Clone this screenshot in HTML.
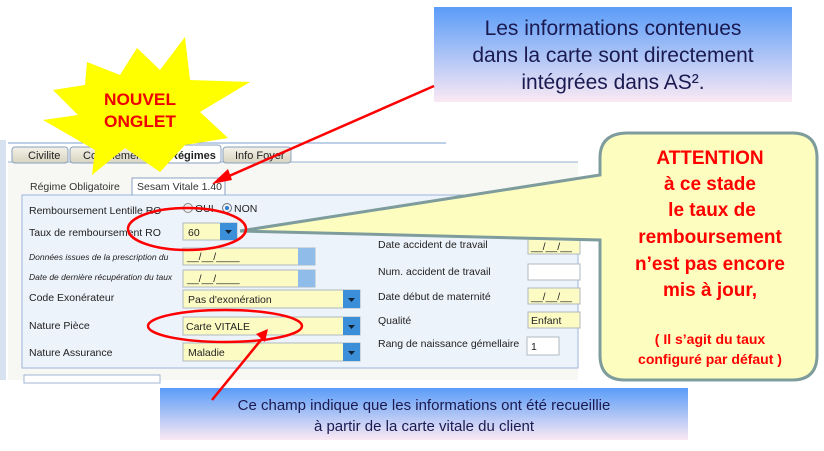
<!DOCTYPE html>
<html><head><meta charset="utf-8"><style>
body{margin:0;width:824px;height:446px;overflow:hidden;background:#fff;font-family:"Liberation Sans",sans-serif}
</style></head><body>
<svg width="824" height="446" viewBox="0 0 824 446" xmlns="http://www.w3.org/2000/svg" font-family="Liberation Sans, sans-serif">
<defs>
<linearGradient id="bg" x1="0" y1="0" x2="0" y2="1"><stop offset="0" stop-color="#5a9cf8"/><stop offset="1" stop-color="#fbe9f4"/></linearGradient>
<linearGradient id="tab" x1="0" y1="0" x2="0" y2="1"><stop offset="0" stop-color="#f4f2e8"/><stop offset="1" stop-color="#d8d4c0"/></linearGradient>
</defs>
<rect x="0" y="140" width="578" height="240" fill="#fff"/>
<rect x="0" y="140" width="6" height="240" fill="#d6e2f0"/>
<line x1="8" y1="143" x2="446" y2="143" stroke="#7d9fd0"/>
<rect x="8" y="162" width="570" height="218" fill="#f7f7f4"/>
<line x1="8" y1="162" x2="578" y2="162" stroke="#9ab0d0"/>
<rect x="12" y="147" width="56" height="16" rx="3" fill="url(#tab)" stroke="#8aa0c0"/>
<rect x="70" y="147" width="90" height="16" rx="3" fill="url(#tab)" stroke="#8aa0c0"/>
<rect x="163" y="145" width="58" height="18" rx="3" fill="#fff" stroke="#8aa0c0"/>
<rect x="223" y="147" width="68" height="16" rx="3" fill="url(#tab)" stroke="#8aa0c0"/>
<g font-size="11" fill="#222">
<text x="28" y="159">Civilite</text>
<text x="83" y="159">Complémentaires</text>
<text x="170" y="159" font-weight="bold">Régimes</text>
<text x="235" y="159">Info Foyer</text>
</g>
<rect x="132" y="178" width="93" height="17" fill="#fff" stroke="#8aa0c0"/>
<text x="30" y="190" font-size="10.5" fill="#333">Régime Obligatoire</text>
<text x="137" y="190" font-size="10.5" fill="#333">Sesam Vitale 1.40</text>
<rect x="22" y="195" width="556" height="173" fill="#edf3fb" stroke="#9ab4d8"/>
<rect x="24" y="375" width="136" height="8" fill="#fff" stroke="#a0b4d0"/>
<g font-size="10.5" fill="#222">
<text x="29" y="214">Remboursement Lentille RO</text>
<text x="29" y="236">Taux de remboursement RO</text>
<text x="29" y="260" font-size="8.5" font-style="italic">Données issues de la prescription du</text>
<text x="29" y="280" font-size="8.5" font-style="italic">Date de dernière récupération du taux</text>
<text x="29" y="301">Code Exonérateur</text>
<text x="29" y="329">Nature Pièce</text>
<text x="29" y="356">Nature Assurance</text>
<text x="378" y="248">Date accident de travail</text>
<text x="378" y="275">Num. accident de travail</text>
<text x="378" y="300">Date début de maternité</text>
<text x="378" y="324">Qualité</text>
<text x="378" y="347">Rang de naissance gémellaire</text>
</g>
<circle cx="188" cy="208" r="4.5" fill="#eee" stroke="#888"/>
<circle cx="227" cy="208" r="4.5" fill="#eee" stroke="#678"/><circle cx="227" cy="208" r="2" fill="#2a7ad0"/>
<text x="195" y="212" font-size="10.5" fill="#222">OUI</text>
<text x="234" y="212" font-size="10.5" fill="#222">NON</text>
<g stroke="#b0b8c0" fill="#fdfbc4">
<rect x="183" y="223" width="54" height="17"/>
<rect x="183" y="248" width="132" height="17"/>
<rect x="183" y="270" width="132" height="17"/>
<rect x="183" y="290" width="177" height="18"/>
<rect x="183" y="317" width="177" height="18"/>
<rect x="183" y="343" width="177" height="18"/>
<rect x="528" y="238" width="52" height="16"/>
<rect x="528" y="288" width="52" height="16"/>
<rect x="528" y="312" width="52" height="16"/>
</g>
<rect x="528" y="264" width="52" height="16" fill="#fff" stroke="#b0b8c0"/>
<rect x="527" y="337" width="32" height="18" fill="#fff" stroke="#b0b8c0"/>
<g fill="#3b8fd8">
<rect x="220" y="223" width="17" height="17"/>
<rect x="343" y="290" width="17" height="18"/><rect x="343" y="317" width="17" height="18"/><rect x="343" y="343" width="17" height="18"/>
</g>
<rect x="298" y="248" width="17" height="17" fill="#8fbce8"/><rect x="298" y="270" width="17" height="17" fill="#8fbce8"/>
<g fill="#123"><path d="M225 230h7l-3.5 4z"/><path d="M348 298h7l-3.5 4z"/><path d="M348 325h7l-3.5 4z"/><path d="M348 351h7l-3.5 4z"/></g>
<g font-size="10.5" fill="#222">
<text x="188" y="236">60</text>
<text x="187" y="260">__/__/____</text><text x="187" y="282">__/__/____</text>
<text x="188" y="303">Pas d'exonération</text>
<text x="186" y="330">Carte VITALE</text>
<text x="188" y="356">Maladie</text>
<text x="531" y="250">__/__/__</text><text x="531" y="300">__/__/__</text>
<text x="531" y="324">Enfant</text>
<text x="531" y="350">1</text>
</g>
<polygon points="185,37 190,80 250,82 200,112 228,138 185,145 160,172 125,148 92,175 95,150 43,120 78,115 53,90 85,85 87,62 120,75 137,48 160,70" fill="#ffff00"/>
<text x="104" y="105" font-size="17" font-weight="bold" fill="#e00" textLength="72" lengthAdjust="spacingAndGlyphs">NOUVEL</text>
<text x="104" y="127" font-size="17" font-weight="bold" fill="#e00" textLength="72" lengthAdjust="spacingAndGlyphs">ONGLET</text>
<rect x="434" y="7" width="358" height="95" fill="url(#bg)"/>
<g font-size="21" fill="#1a1a50" text-anchor="middle">
<text x="613" y="35">Les informations contenues</text>
<text x="613" y="62">dans la carte sont directement</text>
<text x="613" y="89">intégrées dans AS².</text>
</g>
<path d="M628,133 H792 Q817,133 817,158 V355 Q817,380 792,380 H625 Q600,380 600,355 V240 L240,231 L600,175 V158 Q600,133 628,133Z" fill="#fdfdc0" stroke="#7f9c9c" stroke-width="3"/>
<g font-weight="bold" fill="#f00" text-anchor="middle" font-size="19">
<text x="710" y="164">ATTENTION</text>
<text x="710" y="190">à ce stade</text>
<text x="712" y="216">le taux de</text>
<text x="710" y="243">remboursement</text>
<text x="710" y="270">n’est pas encore</text>
<text x="710" y="296">mis à jour,</text>
<text x="710" y="344" font-size="14">( Il s’agit du taux</text>
<text x="710" y="364" font-size="14">configuré par défaut )</text>
</g>
<rect x="160" y="388" width="528" height="52" fill="url(#bg)"/>
<g font-size="15" fill="#1a1a50" text-anchor="middle">
<text x="424" y="410">Ce champ indique que les informations ont été recueillie</text>
<text x="424" y="431">à partir de la carte vitale du client</text>
</g>
<g stroke="#f00" stroke-width="2.5" fill="none">
<ellipse cx="187" cy="229" rx="59" ry="21"/>
<ellipse cx="225" cy="326" rx="77" ry="16"/>
<line x1="434" y1="86" x2="220" y2="180"/>
<line x1="212" y1="400" x2="265" y2="335"/>
</g>
<polygon points="212,184 228,169 232,180" fill="#f00"/>
<polygon points="268,329 256,334 265,342" fill="#f00"/>
</svg>
</body></html>
